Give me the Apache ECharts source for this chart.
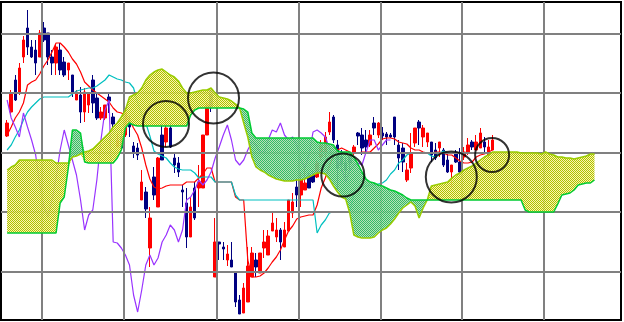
<!DOCTYPE html>
<html>
<head>
<meta charset="utf-8">
<script src="https://cdn.jsdelivr.net/npm/echarts@6/dist/echarts.min.js"></script>
<style>
html,body{margin:0;padding:0;background:#fff;}
#chart{width:624px;height:322px;}
</style>
</head>
<body>
<div id="chart"></div>
<script>
// ---- data (price units; no axis labels are shown in the reference) ----
const N = 152;                       // number of trading-day slots (incl. forward projection)
const candleStart = 1;
const openVals  = [434,458,490,477,513,542,523,520,513,542,537,513,507,520,508,500,495,470,475,458,465,490,472,452,452,473,453,423,433,435,450,424,422,370,378,322,393,363,435,428,442,412,407,380,367,333,382,382,382,435,480,293,328,323,310,310,298,270,257,268,293,310,297,322,315,339,333,340,323,339,357,383,375,380,395,395,393,413,415,438,453,425,413,408,414,417,437,435,430,425,447,435,437,436,435,453,425,422,390,402,427,448,433,428,428,420,422,420,410,398,417,408,413,417,428,420,422,428,415,420];
const closeVals = [447,477,470,502,530,523,513,507,537,530,513,507,523,500,495,507,477,478,458,478,477,467,452,458,465,469,446,430,422,458,443,417,415,388,361,352,375,412,410,442,423,405,398,378,333,363,352,388,435,465,463,328,326,321,316,303,268,256,282,304,317,303,317,328,334,347,340,328,340,370,368,375,390,387,382,388,407,425,433,448,430,402,405,400,407,423,434,422,423,435,442,447,434,433,433,433,412,408,400,417,442,442,442,437,415,412,428,405,398,405,408,398,418,425,423,428,437,423,423,430];
const lowVals   = [433,456,469,475,507,515,512,495,513,528,505,495,495,495,493,490,473,470,447,448,457,457,450,450,450,457,440,423,422,433,433,412,410,370,352,303,370,363,410,423,422,397,393,363,322,333,350,363,382,435,458,293,310,310,304,303,263,256,257,268,293,293,297,312,315,339,328,310,323,339,352,363,363,380,382,387,392,410,412,435,427,380,398,392,398,415,425,415,418,423,435,432,430,425,432,425,400,398,388,397,423,425,423,423,408,410,413,403,397,382,407,395,410,415,420,420,422,417,412,420];
const highVals  = [450,480,495,507,534,560,530,530,540,548,537,520,525,527,513,507,495,480,483,482,477,495,477,463,465,477,457,437,440,462,455,428,427,400,383,363,403,413,447,453,447,417,413,385,382,373,388,405,435,467,482,352,328,328,325,328,298,275,287,323,323,317,317,340,340,358,352,342,348,370,377,392,398,403,398,400,410,430,438,458,455,430,420,412,418,425,438,442,440,440,453,448,443,438,437,453,430,427,407,437,442,450,445,437,428,427,428,422,417,405,420,422,423,432,430,435,442,433,430,435];

const tenkanStart = 1;   // conversion line
const tenkan = [435,443,452,458,467,485,488,490,496,504,510,518,527,527,523,518,511,506,498,488,484,480,477,474,471,468,462,458,457,455,450,442,435,422,405,391,383,381,382,384,385,385,385,385,388,388,388,392,396,402,402,388,388,388,388,388,373,370,370,310,293,293,294,297,302,308,313,320,330,339,344,351,353,354,355,355,365,382,392,404,414,420,422,420,418,417,417,418,418,418,422,426,431,432,432,431,428,427,426,422,420,420,418,417,417,418,418,417,415,415,412,409,407,407,408,413,415,416,418,420];

const kijunStart = 1;    // base line
const kijun = [420,425,433,440,450,458,463,467,471,473,473,473,473,473,473,473,476,479,480,481,482,482,484,487,490,495,493,491,490,488,487,482,467,456,447,434,419,416,414,412,407,403,401,400,400,400,397,392,393,393,393,388,388,388,388,388,375,370,370,370,370,370,370,370,370,370,370,370,370,370,370,370,370,370,370,370,337,345,350,357,358,358,358,358,358,376,380,383,384,385,385,386,387,390,396,400,407,410,415,417,417,417,417,417,414,413,417,419,417,417,417,417,417,417,417,417,417,417,417,417];

const chikouStart = 1;   // lagging line
const chikou = [470,452,443,433,457,443,430,415,385,364,353,370,392,420,440,425,410,395,370,340,355,360,390,430,460,470,328,327,322,315,305,275,258,280,305,315,305,312,328,335,345,340,328,340,370,373,380,390,385,390,398,412,423,435,445,430,410,405,410,420,428,425,418,418,430,440,438,447,435,430,433,425,410,402,415,438,440,437,433,422,412,410,402,388,400,405,407,405,418,430,430,420,425,430,430];

const spanStart = 1;     // leading spans (projected forward)
const senkouA = [
  400,403,405,410,410,410,410,410,410,410,
  410,410,407,407,407,407,413,414,416,418,
  419,421,425,429,433,437,443,447,453,460,
  473,475,477,482,490,495,498,500,501,498,
  495,493,489,482,477,477,478,479,480,480,
  482,477,473,472,471,469,466,462,447,433,
  413,403,400,398,395,393,391,390,389,389,
  389,390,390,391,393,395,397,397,396,391,
  384,378,373,371,357,335,333,332,332,332,
  333,337,340,342,346,351,357,362,365,368,
  364,352,362,370,384,385,386,387,388,392,
  395,397,400,402,404,407,410,413,415,418,
  418,418,418,418,418,418,417,417,417,417,
  417,416,418,416,415,413,413,412,412,411,
  412,413,414,416,416];
const senkouB = [
  337,337,337,337,337,337,337,337,337,337,
  337,337,337,367,373,402,440,440,437,408,
  407,407,407,407,407,407,407,412,420,442,
  447,445,444,444,444,444,444,444,444,444,
  444,444,444,444,444,455,460,462,462,462,
  462,462,462,462,462,462,462,462,461,458,
  437,432,432,432,432,432,432,432,432,432,
  432,432,432,432,432,432,428,427,427,426,
  425,419,418,418,418,413,406,398,391,388,
  387,385,384,382,380,379,377,375,372,370,
  370,370,370,370,370,370,370,370,370,370,
  370,370,370,370,370,370,370,370,370,370,
  370,370,370,370,370,370,370,360,358,358,
  358,358,358,358,358,366,375,376,377,380,
  385,386,387,387,390];

const monthStarts = [10,30,53,73,93,113,133];      // slot boundaries of vertical grid lines
const gridLevels  = [298,358,417,477,536];          // price levels of horizontal grid lines
// annotation circles: [slot position, price, diameter]
const circles = [[40.45,446,46],[52.1,472,51],[83.8,395,43],[110.4,393,51],[120.4,415,34]];

// ---- build series data ----
const categories = [];
for (let i = 0; i < N; i++) categories.push(String(i + 1));
function pad(arr, start) {
  const out = new Array(N).fill('-');
  arr.forEach((v, k) => { out[start + k] = v; });
  return out;
}
const candleData = [];
for (let i = 0; i < N; i++) {
  const k = i - candleStart;
  if (k >= 0 && k < openVals.length) candleData.push([openVals[k], closeVals[k], lowVals[k], highVals[k]]);
  else candleData.push(['-','-','-','-']);
}
const A = pad(senkouA, spanStart), B = pad(senkouB, spanStart);
const cloudBase = [], cloudUp = [], cloudDown = [];
for (let i = 0; i < N; i++) {
  if (A[i] === '-' || B[i] === '-') { cloudBase.push('-'); cloudUp.push('-'); cloudDown.push('-'); continue; }
  cloudBase.push(Math.min(A[i], B[i]));
  cloudUp.push(Math.max(A[i] - B[i], 0));
  cloudDown.push(Math.max(B[i] - A[i], 0));
}

function checker(c1, c2) {
  const cv = document.createElement('canvas');
  cv.width = 2; cv.height = 2;
  const ctx = cv.getContext('2d');
  ctx.fillStyle = c1; ctx.fillRect(0, 0, 1, 1); ctx.fillRect(1, 1, 1, 1);
  ctx.fillStyle = c2; ctx.fillRect(1, 0, 1, 1); ctx.fillRect(0, 1, 1, 1);
  return { image: cv, repeat: 'repeat' };
}
const yellowFill = checker('#aac400', 'rgba(255,240,160,0.85)');
const greenFill  = checker('#33bb66', 'rgba(170,220,170,0.85)');

const chart = echarts.init(document.getElementById('chart'), null, { renderer: 'canvas' });
const lineBase = { type: 'line', showSymbol: false, symbol: 'none', animation: false, silent: true, connectNulls: false };
chart.setOption({
  animation: false,
  backgroundColor: '#ffffff',
  grid: { left: 1, right: 3, top: 2, bottom: 2, show: true, borderColor: '#000000', borderWidth: 2, backgroundColor: 'transparent' },
  xAxis: [
    { type: 'category', data: categories, boundaryGap: true, axisLine: { show: false }, axisTick: { show: false }, axisLabel: { show: false }, splitLine: { show: false } },
    { type: 'value', min: 0, max: N, show: false, splitLine: { show: false } }
  ],
  yAxis: [{ type: 'value', min: 250, max: 568, scale: true, axisLine: { show: false }, axisTick: { show: false }, axisLabel: { show: false }, splitLine: { show: false } }],
  series: [
    { type: 'line', xAxisIndex: 1, data: [[0, 400]], symbol: 'none', lineStyle: { opacity: 0 }, silent: true, z: 1,
      markLine: { silent: true, symbol: ['none', 'none'], label: { show: false }, animation: false,
        lineStyle: { color: '#808080', width: 2, type: 'solid' },
        data: monthStarts.map(x => ({ xAxis: x })).concat(gridLevels.map(y => ({ yAxis: y }))) } },
    { type: 'candlestick', name: 'price', data: candleData, barWidth: 3, z: 3,
      itemStyle: { color: '#ff0000', color0: '#000080', borderColor: '#ff0000', borderColor0: '#000080', borderWidth: 1 } },
    Object.assign({}, lineBase, { name: 'tenkan', data: pad(tenkan, tenkanStart), lineStyle: { color: '#ff0000', width: 1.2 }, z: 4 }),
    Object.assign({}, lineBase, { name: 'kijun', data: pad(kijun, kijunStart), lineStyle: { color: '#00c0c0', width: 1.2 }, z: 4 }),
    Object.assign({}, lineBase, { name: 'chikou', data: pad(chikou, chikouStart), lineStyle: { color: '#9933ff', width: 1.2 }, z: 4 }),
    Object.assign({}, lineBase, { name: 'cloudBase', data: cloudBase, stack: 'cloud', lineStyle: { opacity: 0, width: 0 }, z: 5 }),
    Object.assign({}, lineBase, { name: 'cloudUp', data: cloudUp, stack: 'cloud', lineStyle: { opacity: 0, width: 0 }, areaStyle: { color: yellowFill, opacity: 1 }, z: 5 }),
    Object.assign({}, lineBase, { name: 'cloudDown', data: cloudDown, stack: 'cloud', lineStyle: { opacity: 0, width: 0 }, areaStyle: { color: greenFill, opacity: 1 }, z: 5 }),
    Object.assign({}, lineBase, { name: 'senkouA', data: A, lineStyle: { color: '#99cc00', width: 1.5 }, z: 6 }),
    Object.assign({}, lineBase, { name: 'senkouB', data: B, lineStyle: { color: '#00cc33', width: 1.5 }, z: 6 }),
    { type: 'scatter', xAxisIndex: 1, silent: true, z: 8, symbol: 'circle',
      data: circles.map(c => ({ value: [c[0], c[1]], symbolSize: c[2] })),
      itemStyle: { color: 'rgba(0,0,0,0)', borderColor: '#000000', borderWidth: 2 } }
  ]
});
</script>
</body>
</html>
